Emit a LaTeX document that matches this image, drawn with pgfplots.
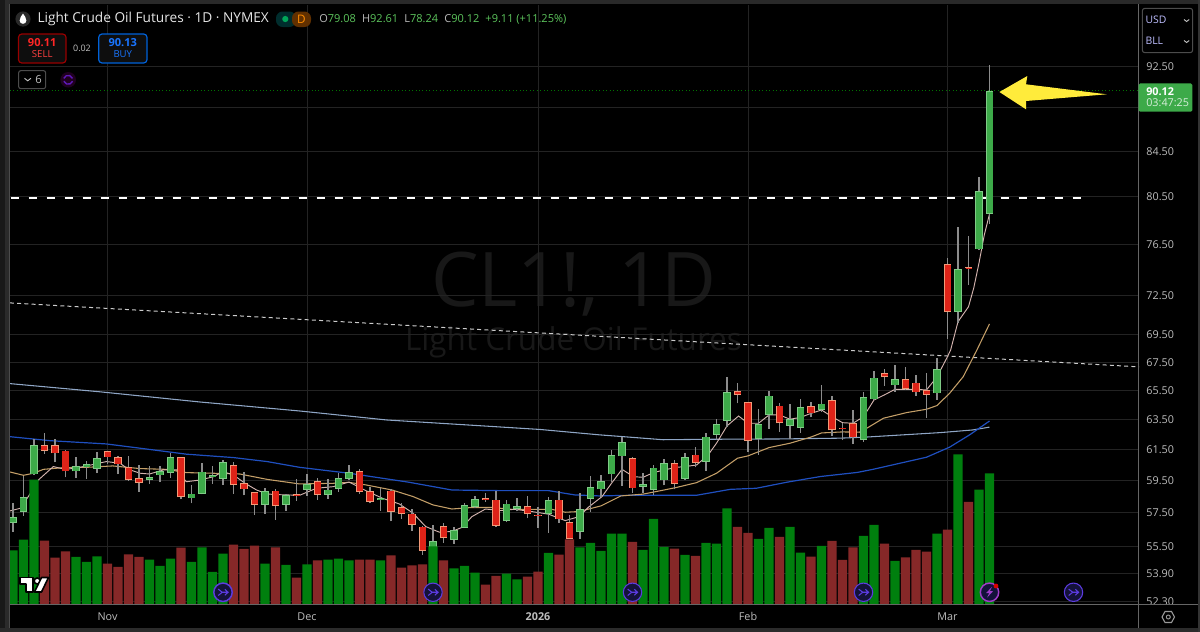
\documentclass[border=0pt]{standalone}
\usepackage{fontspec}
\usepackage{pgfplots}
\usepackage{pgfplotstable}
\pgfplotsset{compat=1.18}
\setmainfont{Open Sans}
\definecolor{gridc}{HTML}{232323}
\definecolor{ticktxt}{HTML}{BDBDBD}
\definecolor{wick}{HTML}{8C8C8C}
\definecolor{upedge}{HTML}{7FCB86}
\definecolor{upfill}{HTML}{3DAA49}
\definecolor{dnedge}{HTML}{F29A78}
\definecolor{dnfill}{HTML}{DE2318}
\definecolor{volup}{HTML}{007F0E}
\definecolor{voldn}{HTML}{862828}
\definecolor{mapink}{HTML}{D4B4AF}
\definecolor{matan}{HTML}{C49F68}
\definecolor{mablue}{HTML}{1F4FBF}
\definecolor{malight}{HTML}{8FA6C6}
\definecolor{hdrgreen}{HTML}{5CC45C}
\definecolor{wm}{HTML}{181818}
\definecolor{evfill}{HTML}{14123A}
\definecolor{evline}{HTML}{5B3BE0}
\definecolor{evlight}{HTML}{A03CC8}
\definecolor{arrowy}{HTML}{FFEB3B}
\definecolor{boxfill}{HTML}{0E0E0E}
\newcommand\fs[1]{\fontsize{#1}{#1}\selectfont}

% x = bar number, then open, close, low, high
\pgfplotstableread{
x open close low high
0 56.91 57.23 56.37 58.09
1 57.56 58.47 57.33 59.81
2 59.91 61.79 59.87 62.18
6 60.10 60.45 59.68 61.01
7 60.36 60.56 59.64 60.75
8 60.28 60.97 59.98 61.36
13 59.57 59.72 59.30 60.45
14 59.85 60.13 59.42 60.45
15 60.02 61.03 59.68 61.27
17 58.40 58.69 58.09 59.24
18 58.67 60.08 58.65 60.62
19 59.74 59.85 59.32 60.45
20 59.64 60.67 59.26 60.84
24 58.01 58.84 57.46 59.03
26 58.01 58.61 57.64 58.67
28 58.92 59.30 58.55 59.93
30 58.61 58.94 58.36 59.59
31 59.00 59.66 58.82 59.98
32 59.61 60.06 59.53 60.51
35 58.32 58.43 57.64 59.05
40 55.24 55.79 55.08 56.77
42 55.87 56.47 55.63 56.67
43 56.61 57.97 56.59 58.14
44 57.85 58.36 57.81 58.55
47 56.99 58.07 56.93 58.30
48 57.74 57.91 57.60 58.43
51 57.46 58.30 56.31 58.47
54 56.37 57.72 55.95 58.71
55 58.36 59.09 57.58 59.81
56 58.96 59.47 58.47 59.87
57 59.91 61.14 59.45 61.49
58 61.06 61.99 59.17 62.36
60 59.11 59.30 58.75 60.02
61 58.92 60.34 58.61 60.51
62 59.53 60.62 59.21 60.88
64 59.61 61.01 59.55 61.31
66 60.73 62.36 60.15 62.59
67 62.50 63.19 62.14 63.53
68 63.44 65.38 63.03 66.48
71 62.23 63.19 61.16 64.21
72 63.80 65.15 62.90 65.49
74 63.08 63.53 62.18 64.57
75 62.97 64.34 62.63 64.90
77 64.16 64.60 64.05 65.87
81 62.14 65.03 62.03 65.42
82 64.90 66.41 64.88 66.88
84 65.87 66.30 65.42 67.31
88 65.31 67.00 64.85 67.82
90 71.20 74.58 70.42 77.97
92 76.14 80.99 76.08 82.21
93 79.08 90.12 78.24 92.61
}\upcandles
\pgfplotstableread{
x open close low high
3 61.79 61.45 61.23 62.59
4 61.79 61.27 60.67 62.18
5 61.45 60.10 59.72 61.49
9 61.40 61.01 60.58 61.45
10 61.01 60.54 59.93 61.10
11 60.36 59.55 59.51 61.10
12 59.66 59.38 58.82 60.49
16 61.03 58.47 58.34 61.05
21 60.49 59.24 58.67 60.67
22 59.34 58.96 58.59 60.08
23 58.78 58.01 57.40 58.80
25 58.88 57.91 57.09 58.96
27 58.66 58.56 58.24 59.59
29 59.49 58.61 58.30 59.66
33 60.10 58.82 58.67 60.28
34 58.84 58.20 58.09 59.13
36 58.88 57.56 56.99 58.96
37 57.85 57.42 57.15 58.09
38 57.46 56.75 56.43 57.72
39 56.67 55.24 55.00 56.69
41 56.71 55.97 55.71 56.87
45 58.43 58.30 58.20 58.75
46 58.32 56.71 56.67 58.86
49 57.91 57.42 57.17 58.55
50 57.40 57.30 56.61 57.85
52 58.32 57.11 56.87 58.86
53 56.95 55.95 55.93 57.38
59 60.97 59.03 58.75 61.00
63 60.64 59.32 58.96 60.84
65 61.18 60.62 60.36 61.66
69 65.47 65.19 64.62 66.06
70 64.69 62.10 61.38 64.71
73 64.46 63.26 62.70 64.62
76 64.41 63.93 63.66 64.71
78 64.85 62.79 62.41 65.13
79 62.97 62.85 62.14 63.30
80 63.28 62.32 61.86 64.16
83 66.72 66.44 65.82 67.02
85 66.30 65.61 65.54 67.14
86 66.06 65.38 65.15 66.60
87 65.56 65.22 63.62 66.74
89 74.96 71.20 69.23 75.42
91 74.72 74.60 73.30 77.23
}\dncandles
\pgfplotstableread{
x vol
0 54
1 64.7
2 124.7
6 47.3
7 42.3
8 48
13 44.7
14 38.3
15 45.7
17 42.3
18 57
19 32.3
20 50.7
24 40.7
26 39.3
28 40
30 44.7
31 45.7
32 44
35 44
40 58
42 36
43 38.3
44 31.7
47 30.7
48 25
51 51.3
54 57
55 61.3
56 53.3
57 70.7
58 70.7
60 54.3
61 85.3
62 57.3
64 49.3
66 61.3
67 60.7
68 96
71 65.3
72 76.3
74 77.3
75 51.7
77 58.3
81 68.3
82 79.3
84 43.3
88 70.7
90 150
92 114.7
93 131
}\upvol
\pgfplotstableread{
x vol
3 63.7
4 46.7
5 53
9 40.7
10 37.3
11 50
12 47.3
16 56.7
21 59.7
22 55.3
23 58.7
25 57
27 26.7
29 44
33 44.7
34 44.7
36 49
37 36.7
38 39
39 40
41 44
45 19.7
46 28.3
49 27.7
50 32.7
52 49.7
53 65
59 62.3
63 55.7
65 48.3
69 77.3
70 71.3
73 67.3
76 47.7
78 63.3
79 44.3
80 57
83 60.7
85 47
86 54.3
87 52.7
89 74.7
91 102.3
}\dnvol

\pgfdeclareplotmark{evarrow}{%
  \pgfpathcircle{\pgfpointorigin}{6.9pt}\pgfusepathqfillstroke
  \pgfsetlinewidth{0.8pt}%
  \pgfpathmoveto{\pgfqpoint{-3.6pt}{2.4pt}}\pgfpathlineto{\pgfqpoint{-0.6pt}{0pt}}%
  \pgfpathlineto{\pgfqpoint{3.8pt}{0pt}}%
  \pgfpathmoveto{\pgfqpoint{-3.6pt}{-2.4pt}}\pgfpathlineto{\pgfqpoint{-0.6pt}{0pt}}%
  \pgfpathmoveto{\pgfqpoint{1.4pt}{2.2pt}}\pgfpathlineto{\pgfqpoint{3.8pt}{0pt}}%
  \pgfpathlineto{\pgfqpoint{1.4pt}{-2.2pt}}%
  \pgfusepathqstroke
}
\pgfdeclareplotmark{evbolt}{%
  \pgfpathcircle{\pgfpointorigin}{6.9pt}\pgfusepathqfillstroke
  \pgfsetfillcolor{evlight}%
  \pgfpathmoveto{\pgfqpoint{1.8pt}{4pt}}\pgfpathlineto{\pgfqpoint{-2.6pt}{-0.6pt}}%
  \pgfpathlineto{\pgfqpoint{-0.2pt}{-0.6pt}}\pgfpathlineto{\pgfqpoint{-1.8pt}{-4pt}}%
  \pgfpathlineto{\pgfqpoint{2.6pt}{0.8pt}}\pgfpathlineto{\pgfqpoint{0.2pt}{0.8pt}}\pgfpathclose
  \pgfusepathqfill
}

\pgfplotsset{
  candlewick/.style={draw=none,mark=none,forget plot,
    error bars/.cd,y dir=plus,y explicit,error mark=none,
    error bar style={draw=wick,line width=0.8pt,solid}},
  candlebody/.style 2 args={draw=none,mark=none,forget plot,
    error bars/.cd,y dir=plus,y explicit,error mark=none,
    error bar style={draw=#1,line width=#2,solid}},
}
\begin{document}
\begin{tikzpicture}
\path[use as bounding box] (0pt,0pt) rectangle (900pt,-474pt);
\fill[black] (0pt,0pt) rectangle (900pt,-474pt);
\begin{scope}[x=0.75pt,y=-0.75pt]
  % frame strips
  \fill[black!84] (0,0) rectangle (1200,4.3);
  \fill[black!90] (0,0) rectangle (5,632);
  \fill[black!83] (5,0) rectangle (9.3,632);
  \fill[black!83] (0,628) rectangle (1200,632);
  \fill[black!80] (1197.8,0) rectangle (1200,632);
\end{scope}
% watermark
\begin{scope}[x=0.75pt,y=-0.75pt]
  \node[text=wm,inner sep=0,anchor=center] at (574,284) {\fs{56.5pt}CL1!, 1D};
  \node[text=wm,inner sep=0,anchor=center] at (573.5,342) {\fs{23.6pt}Light Crude Oil Futures};
\end{scope}

\begin{axis}[
  at={(7.5pt,-453.2pt)},anchor=south west,
  scale only axis,width=846.75pt,height=449.475pt,
  ymode=log,xmin=-0.2857,xmax=107.238,ymin=52.17,ymax=98.76,
  clip=true,
  axis line style={draw=none},
  tick style={draw=none},
  grid=major,major grid style={draw=gridc,line width=0.75pt},
  minor tick num=0,
  xtick={9,28,50,70,89},xticklabels={},
  ytick={52.3,53.9,55.5,57.5,59.5,61.5,63.5,65.5,67.5,69.5,72.5,76.5,80.5,84.5,88.5,92.5},
  yticklabels={52.30,53.90,55.50,57.50,59.50,61.50,63.50,65.50,67.50,69.50,72.50,76.50,80.50,84.50,{},92.50},
  ytick pos=right,
  yticklabel style={anchor=west,inner sep=0pt,xshift=5.4pt,text=ticktxt,font=\fs{8.1pt}},
]
% long descending trend line
\addplot[draw=white!80!black,line width=0.75pt,dash pattern=on 3pt off 2.4pt,forget plot] coordinates {(-0.29,71.91) (107.24,67.17)};
% horizontal level
\addplot[draw=white,line width=1.5pt,dash pattern=on 6pt off 7.5pt,forget plot] coordinates {(-0.22,80.37) (101.71,80.37)};
% last price
\addplot[draw=green!45!black,line width=0.6pt,dotted,forget plot] coordinates {(-0.29,90.12) (107.24,90.12)};
% moving averages
\addplot[draw=malight,line width=0.8pt,forget plot] coordinates {
(-0.29,65.99)(8.3,65.41)(17.8,64.71)(27.3,64.09)(35.6,63.48)(43.2,63.15)(50.2,62.84)(55.9,62.48)(57.8,62.38)(61.9,62.16)(66.7,62.19)(73,62.21)(78.8,62.26)(81.3,62.34)(88.3,62.63)(91.4,62.81)(93,63.0)};
\addplot[draw=mablue,line width=0.9pt,forget plot] coordinates {
(-0.29,62.36)(3.5,62.10)(8.9,61.88)(12.1,61.60)(16.5,61.21)(21,60.99)(24.2,60.73)(27.3,60.36)(32,59.98)(37.7,59.41)(41.8,58.92)(46.2,58.88)(51,58.88)(53.5,58.61)(55.8,58.55)(59,58.59)(65.1,58.59)(68.3,58.96)(70.8,59.03)(73.7,59.41)(76.9,59.77)(80.4,60.03)(81.9,60.23)(87,61.01)(89.2,61.67)(91.1,62.48)(93,63.41)};
\addplot[draw=matan,line width=0.8pt,forget plot] coordinates {
(-0.29,60.06)(1,59.85)(1.94,59.98)(2.9,60.23)(4.8,60.34)(7,60.36)(9.5,60.45)(12.1,60.28)(14.6,60.23)(16.5,60.02)(19.1,59.98)(21.6,59.93)(24.2,59.59)(27.3,59.30)(30.5,59.34)(32,59.40)(33.6,59.24)(36.1,58.92)(38.1,58.51)(40,57.99)(41.8,57.74)(43.7,57.83)(45.6,57.83)(47.5,57.72)(49.4,57.72)(51.3,57.72)(52.6,57.54)(53.9,57.58)(56,57.93)(57.9,58.55)(60,58.66)(62,58.92)(63.2,59.08)(65.1,59.38)(67,59.98)(69,60.95)(70,61.10)(72,61.64)(74,61.93)(76,62.34)(77,62.61)(79,62.68)(80.6,62.66)(81.3,62.92)(82.9,63.60)(85.1,63.98)(87,64.21)(88,64.46)(89.2,65.31)(90.5,66.48)(91.8,68.40)(93,70.32)};
\addplot[draw=mapink,line width=0.7pt,forget plot] coordinates {
(-0.29,57.62)(0.67,57.78)(1.46,58.51)(2.41,59.55)(3.84,60.41)(4.95,60.23)(5.9,60.30)(7,60.45)(8.9,60.73)(10.2,60.62)(11,60.23)(12.1,59.98)(13,59.93)(14.3,60.19)(15.6,60.19)(16.5,59.44)(17.8,59.55)(19.1,59.76)(20,60.08)(21,59.87)(22.1,59.34)(23.2,58.92)(24.2,58.67)(25.1,58.63)(27.3,58.59)(28.9,59.03)(30.5,59.13)(32,59.42)(33.6,58.88)(35.2,58.40)(36.8,58.05)(38.1,57.48)(39.3,56.67)(40.6,56.33)(41.8,56.37)(42.8,56.63)(43.7,57.27)(45,57.74)(46.3,57.64)(47.8,57.72)(49.4,57.58)(51,57.42)(52.6,57.03)(53.9,57.27)(54.8,57.85)(56.1,58.51)(57,59.34)(58,60.23)(59.1,59.76)(60,59.72)(61,60.02)(62,60.19)(63.2,60.36)(64,60.41)(65.1,60.51)(66.2,61.16)(67,61.93)(68,63.08)(69.1,63.75)(70,63.26)(71,63.26)(72,63.82)(73,63.82)(74,63.53)(75,63.66)(76,63.93)(77,64.16)(78,63.70)(79,63.30)(80,63.26)(81,63.70)(82,64.85)(83,65.20)(84,65.59)(85,65.59)(86,65.59)(87,65.54)(88,66.46)(89,67.91)(89.3,68.40)(90,70.49)(91,71.62)(91.5,73.07)(92,75.04)(92.5,77.30)(93,79.05)};
% candle wicks
\addplot[candlewick] table[x=x,y=low,y error expr=\thisrow{high}-\thisrow{low}] {\upcandles};
\addplot[candlewick] table[x=x,y=low,y error expr=\thisrow{high}-\thisrow{low}] {\dncandles};
% candle bodies: edge, then fill
\addplot[candlebody={upedge}{5.7pt}] table[x=x,y=open,y error expr=\thisrow{close}-\thisrow{open}] {\upcandles};
\addplot[candlebody={upfill}{4.5pt}] table[x=x,y expr=\thisrow{open}*1.0008,y error expr=\thisrow{close}*0.9992-\thisrow{open}*1.0008] {\upcandles};
\addplot[candlebody={dnedge}{5.7pt}] table[x=x,y=close,y error expr=\thisrow{open}-\thisrow{close}] {\dncandles};
\addplot[candlebody={dnfill}{4.5pt}] table[x=x,y expr=\thisrow{close}*1.0008,y error expr=\thisrow{open}*0.9992-\thisrow{close}*1.0008] {\dncandles};
\end{axis}

% panels that cover the clipped lowest price label
\begin{scope}[x=0.75pt,y=-0.75pt]
  \fill[black] (1139,604.6) rectangle (1197.8,627.6);
\end{scope}

% volume
\begin{axis}[
  at={(7.5pt,-453.2pt)},anchor=south west,
  scale only axis,width=846.75pt,height=449.475pt,
  xmin=-0.2857,xmax=107.238,ymin=0,ymax=599.3,
  axis line style={draw=none},tick style={draw=none},
  ytick=\empty,
  xtick={9,28,50,70,89},
  xticklabels={Nov,Dec,\textbf{2026},Feb,Mar},
  xticklabel style={anchor=center,inner sep=0pt,yshift=-9.4pt,text=ticktxt,font=\fs{8.1pt}},
]
\addplot[ybar,bar width=6.8pt,bar shift=0pt,fill=volup,draw=none,forget plot] table[x=x,y=vol] {\upvol};
\addplot[ybar,bar width=6.8pt,bar shift=0pt,fill=voldn,draw=none,forget plot] table[x=x,y=vol] {\dnvol};
% event markers
\addplot[only marks,mark=evarrow,draw=evline,fill=evfill,line width=1.1pt,mark options={solid},forget plot] coordinates {(20,12)(40,12)(59,12)(81,12)(101,12)};
\addplot[only marks,mark=evbolt,draw=evlight,fill=evfill,line width=1.1pt,mark options={solid},forget plot] coordinates {(93,12)};
\end{axis}

\begin{scope}[x=0.75pt,y=-0.75pt]
  \fill[red!85!black] (996,586) circle[radius=2.4];
  % frame lines
  \draw[black!60,line width=0.8pt] (1138.6,4.3) -- (1138.6,627.6);
  \draw[black!60,line width=0.8pt] (9.3,604.4) -- (1197.8,604.4);
  \draw[black!70,line width=0.8pt] (9.3,4.3) -- (9.3,627.6);
  % yellow arrow
  \fill[arrowy] (999.4,92) -- (1027.3,76) -- (1026,84.3) -- (1106.7,94.3) -- (1026,101) -- (1026,109.3) -- cycle;
  % price badge
  \fill[upfill,rounded corners=1.2pt] (1138.5,83.4) rectangle (1192.4,111.7);
  \node[anchor=west,inner sep=0,text=white] at (1146,92) {\fs{8.1pt}\textbf{90.12}};
  \node[anchor=west,inner sep=0,text=white!80!upfill] at (1146,103) {\fs{8.1pt}03:47:25};
  % currency box
  \draw[black!70,rounded corners=2pt,line width=0.8pt] (1142.3,8.3) rectangle (1192.7,52.7);
  \node[anchor=west,inner sep=0,text=blue!25!white] at (1145.3,20) {\fs{7.8pt}USD};
  \node[anchor=west,inner sep=0,text=blue!25!white] at (1145.3,41) {\fs{7.8pt}BLL};
  \draw[black!25,line width=0.7pt] (1184,19.5) -- (1186.6,21.5) -- (1189.2,19.5);
  \draw[black!25,line width=0.7pt] (1184,40.5) -- (1186.6,42.5) -- (1189.2,40.5);
  % settings icon
  \draw[black!40,line width=0.8pt] (1162,617) -- (1165,611.5) -- (1171.5,611.5) -- (1174.5,617) -- (1171.5,622.5) -- (1165,622.5) -- cycle;
  \draw[black!40,line width=0.7pt] (1168.3,617) circle[radius=2];
  % TV logo
  \draw[black,line width=1.2pt,fill=white,line join=round] (20,577.5) -- (33,577.5) -- (33,592) -- (26,592) -- (26,584) -- (20,584) -- cycle;
  \filldraw[draw=black,line width=1.2pt,fill=white] (37.2,581) circle[radius=3];
  \draw[black,line width=1.2pt,fill=white,line join=round] (41.5,577.5) -- (48.5,577.5) -- (41.5,592) -- (34.5,592) -- cycle;
  % legend title row
  \fill[black!84] (23,19) circle[radius=7.6];
  \fill[white] (23,13.5) .. controls (24.5,16) and (26.4,18) .. (26.4,20.5) .. controls (26.4,22.6) and (24.8,23.8) .. (23,23.8) .. controls (21.2,23.8) and (19.6,22.6) .. (19.6,20.5) .. controls (19.6,18) and (21.5,16) .. (23,13.5) -- cycle;
  \node[anchor=west,inner sep=0,text=black!10] at (37.3,19.3) {\fs{10.25pt}Light Crude Oil Futures · 1D · NYMEX};
  \fill[teal!35!black,rounded corners=5pt] (276,11.5) rectangle (296,27);
  \fill[orange!38!black,rounded corners=5pt] (292,11.5) rectangle (311,27);
  \fill[teal!70!green] (285.3,19) circle[radius=3.1];
  \node[inner sep=0,text=orange!90!yellow] at (301.3,19) {\fs{8.8pt}D};
  \node[anchor=west,inner sep=0] at (319,19.3) {\fs{8.25pt}\textcolor{black!28}{O}\textcolor{hdrgreen}{79.08}\hspace{4.6pt}\textcolor{black!28}{H}\textcolor{hdrgreen}{92.61}\hspace{4.6pt}\textcolor{black!28}{L}\textcolor{hdrgreen}{78.24}\hspace{4.6pt}\textcolor{black!28}{C}\textcolor{hdrgreen}{90.12}\hspace{4.6pt}\textcolor{hdrgreen}{+9.11 (+11.25\%)}};
  % sell and buy
  \filldraw[draw=red!60!black,fill=boxfill,rounded corners=2.5pt,line width=0.9pt] (18.5,34) rectangle (66,63);
  \node[inner sep=0,text=red!85!white] at (42.2,42.3) {\fs{8.3pt}\textbf{90.11}};
  \node[inner sep=0,text=red!75!white] at (42.2,54.5) {\fs{7.2pt}SELL};
  \node[inner sep=0,text=black!25] at (82,48.5) {\fs{6.7pt}0.02};
  \filldraw[draw=blue!55!cyan!85!black,fill=boxfill,rounded corners=2.5pt,line width=0.9pt] (98.7,34) rectangle (147,63);
  \node[inner sep=0,text=blue!60!cyan!90!white] at (122.8,42.3) {\fs{8.3pt}\textbf{90.13}};
  \node[inner sep=0,text=blue!60!cyan!90!white] at (122.8,54.5) {\fs{7.2pt}BUY};
  % collapsed indicators
  \draw[black!70,rounded corners=1.5pt,line width=0.8pt] (18.7,70.7) rectangle (45.6,88.6);
  \draw[black!25,line width=0.7pt] (24.5,78.3) -- (27.7,80.8) -- (30.9,78.3);
  \node[inner sep=0,text=black!25] at (38.5,79.8) {\fs{8.4pt}6};
  \fill[violet!25!black] (68.2,79.8) circle[radius=7.8];
  \draw[violet!60!blue!90!white,line width=1pt] (63.8,78.4) arc[start angle=160,end angle=20,radius=3.5pt];
  \draw[violet!60!blue!90!white,line width=1pt] (72.6,81.2) arc[start angle=340,end angle=200,radius=3.5pt];
\end{scope}
\end{tikzpicture}
\end{document}
